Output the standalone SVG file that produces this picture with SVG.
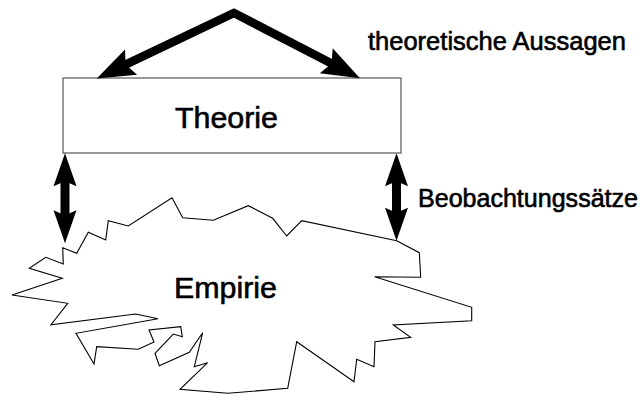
<svg xmlns="http://www.w3.org/2000/svg" width="643" height="396" viewBox="0 0 643 396">
  <style>
    .lbl { font-family: "Liberation Sans", Arial, Helvetica, sans-serif; fill: #000; stroke: #000; stroke-width: 0.6; }
    .big { font-size: 30px; }
    .small { font-size: 25px; }
    .box { fill: #fff; stroke: #555; stroke-width: 1.2; }
    .blob { fill: #fff; stroke: #000; stroke-width: 1.1; stroke-linejoin: miter; }
    .shaft { fill: none; stroke: #000; stroke-linejoin: miter; stroke-linecap: butt; }
  </style>
  <defs>
    <marker id="bigHead" markerUnits="userSpaceOnUse" markerWidth="80" markerHeight="50" refX="0" refY="0" orient="auto" overflow="visible" viewBox="-25 -25 80 50">
      <path d="M 26 0 L -12 -14 L -6 0 L -12 14 Z" fill="#000"/>
    </marker>
    <marker id="bigHeadStart" markerUnits="userSpaceOnUse" markerWidth="80" markerHeight="50" refX="0" refY="0" orient="auto-start-reverse" overflow="visible" viewBox="-25 -25 80 50">
      <path d="M 26 0 L -12 -14 L -6 0 L -12 14 Z" fill="#000"/>
    </marker>
    <marker id="head" markerUnits="userSpaceOnUse" markerWidth="60" markerHeight="40" refX="0" refY="0" orient="auto" overflow="visible" viewBox="-20 -20 60 40">
      <path d="M 24 0 L -9 -11.5 L -4 0 L -9 11.5 Z" fill="#000"/>
    </marker>
    <marker id="headStart" markerUnits="userSpaceOnUse" markerWidth="60" markerHeight="40" refX="0" refY="0" orient="auto-start-reverse" overflow="visible" viewBox="-20 -20 60 40">
      <path d="M 24 0 L -9 -11.5 L -4 0 L -9 11.5 Z" fill="#000"/>
    </marker>
  </defs>

  <g id="empirie">
    <polygon class="blob" points="62.7,247.7 63.3,264 45.7,257.3 29.3,268.3 62.3,278.3 12,295 67.7,303.3 51,324.7 135.7,314 158,318.7 76,333.3 94,364 96.7,346.7 138.3,349.3 154,342 149,330 180.7,326.7 182.3,336.7 173.3,334 155,353.3 159.3,365.7 189.3,352.3 202.7,332.7 194.3,366.7 207.7,362.7 180,389.3 227.7,393.3 287.7,388.3 296.7,341.7 354,381.7 356.7,359.3 374,366.7 375,341.7 410.7,337.3 393.3,325 471.7,320.7 471.7,307.3 374.7,276.7 420.7,277.3 419.3,252.7 396.7,240.7 301.7,220.7 286.7,236 272.7,218.3 248.3,205.7 213.3,220.3 182.7,217.7 172,197.7 128.3,226 108.3,220.7 105.7,240 88.3,232.3 76.7,253.3"/>
    <text class="lbl big" x="174" y="298" textLength="103" lengthAdjust="spacingAndGlyphs">Empirie</text>
  </g>

  <g id="theorie">
    <rect class="box" x="63" y="78" width="338" height="75"/>
    <text class="lbl big" x="175" y="128" textLength="103" lengthAdjust="spacingAndGlyphs">Theorie</text>
  </g>

  <g id="labels">
    <text class="lbl small" x="368" y="50" textLength="258" lengthAdjust="spacingAndGlyphs">theoretische Aussagen</text>
    <text class="lbl small" x="418" y="207" textLength="220" lengthAdjust="spacingAndGlyphs">Beobachtungssätze</text>
  </g>

  <g id="connectors">
    <path class="shaft" stroke-width="8.5" d="M 120.2 67.2 L 234 13 L 336.9 66.3" marker-start="url(#bigHeadStart)" marker-end="url(#bigHead)"/>
    <path class="shaft" stroke-width="9" d="M 65 177.3 L 65 219.3" marker-start="url(#headStart)" marker-end="url(#head)"/>
    <path class="shaft" stroke-width="9" d="M 396.5 177.3 L 396.5 216.7" marker-start="url(#headStart)" marker-end="url(#head)"/>
  </g>
</svg>
